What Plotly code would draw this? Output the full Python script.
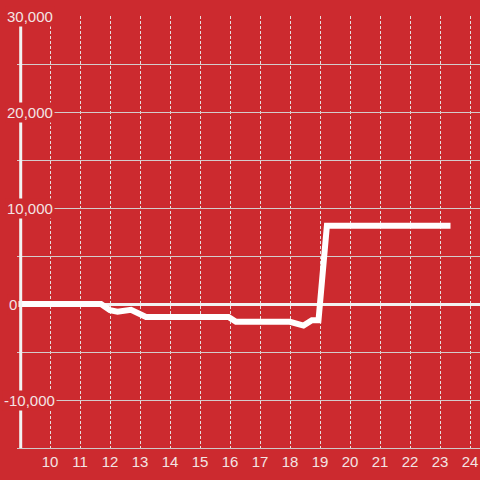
"""Line chart on a red background, recreated with Plotly."""

import plotly.graph_objects as go

BG = "#cc2a2f"
TEXT = "#f3e4e4"

# data
hours = [8.9, 11.7, 12.0, 12.25, 12.7, 13.2, 15.95, 16.2, 18.0, 18.33,
         18.45, 18.73, 18.95, 19.23, 23.35]
values = [0, 0, -650, -800, -600, -1350, -1350, -1850, -1850, -2250,
          -2250, -1700, -1700, 8150, 8150]

x_ticks = list(range(10, 25))
y_grid = [-15000, -10000, -5000, 0, 5000, 10000, 15000, 20000, 25000, 30000]
y_labels = {30000: "30,000", 20000: "20,000", 10000: "10,000", 0: "0", -10000: "-10,000"}

PLOT_L = 17
PLOT_W = 480 - PLOT_L

fig = go.Figure()
fig.add_trace(go.Scatter(
    x=hours,
    y=values,
    mode="lines",
    line=dict(color="#ffffff", width=6),
    hoverinfo="skip",
    showlegend=False,
))

# y axis line, drawn a few px inside the plot edge
fig.add_shape(
    type="line", xref="paper", yref="paper",
    x0=3.7 / PLOT_W, x1=3.7 / PLOT_W, y0=0, y1=1,
    line=dict(color="#f2f2f2", width=3),
    layer="above",
)

# y tick labels sit inside the plot with a background that masks the lines
for val, txt in y_labels.items():
    left = 2 if txt.startswith("-") else 5
    if txt == "0":
        left = 7
    fig.add_annotation(
        x=(left - PLOT_L) / PLOT_W, xref="paper", xanchor="left",
        y=val, yref="y", yanchor="middle",
        text=txt, showarrow=False,
        font=dict(family="Liberation Sans, Arial, sans-serif", size=15, color=TEXT),
        bgcolor=BG, borderpad=1,
    )

fig.update_layout(
    width=480,
    height=480,
    margin=dict(l=PLOT_L, r=0, t=16, b=32),
    paper_bgcolor=BG,
    plot_bgcolor=BG,
    font=dict(family="Liberation Sans, Arial, sans-serif", size=15, color=TEXT),
    xaxis=dict(
        range=[8.9, 8.9 + PLOT_W / 30],
        tickvals=x_ticks,
        ticks="",
        showgrid=True,
        gridcolor="#e6dede",
        gridwidth=1,
        griddash="3px,2px",
        zeroline=False,
        showline=True,
        linecolor="#d0c8c8",
        linewidth=1,
        tickfont=dict(size=15, color=TEXT),
    ),
    yaxis=dict(
        range=[-15000, 30000],
        tickvals=y_grid,
        showticklabels=False,
        ticks="",
        showgrid=True,
        gridcolor="#d4cccc",
        gridwidth=1,
        zeroline=True,
        zerolinecolor="#f2f2f2",
        zerolinewidth=3,
        showline=False,
    ),
)

# let the chart fill the window edge to edge
fig.write_html(
    "out.html",
    config={"displayModeBar": False},
    post_script=(
        "document.body.style.margin='0';"
        f"document.body.style.background='{BG}';"
        "document.body.style.overflow='hidden';"
    ),
)
